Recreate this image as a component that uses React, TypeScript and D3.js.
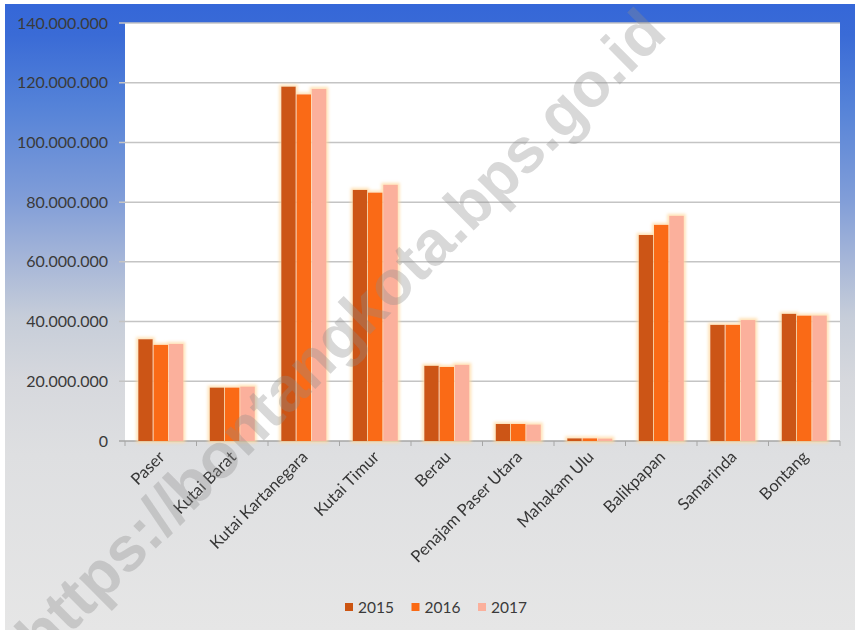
import React from "react";
import * as d3 from "d3";

const categories = [
  "Paser",
  "Kutai Barat",
  "Kutai Kartanegara",
  "Kutai Timur",
  "Berau",
  "Penajam Paser Utara",
  "Mahakam Ulu",
  "Balikpapan",
  "Samarinda",
  "Bontang",
];
const years = ["2015", "2016", "2017"];
const values2015 = [34.1e6, 17.9e6, 118.7e6, 84.1e6, 25.2e6, 5.7e6, 0.9e6, 69.0e6, 38.9e6, 42.6e6];
const values2016 = [32.2e6, 17.9e6, 116.1e6, 83.2e6, 24.8e6, 5.7e6, 0.9e6, 72.4e6, 38.9e6, 42.0e6];
const values2017 = [32.5e6, 18.2e6, 117.9e6, 85.8e6, 25.5e6, 5.5e6, 0.8e6, 75.4e6, 40.5e6, 42.0e6];
const yTicks = [0, 20e6, 40e6, 60e6, 80e6, 100e6, 120e6, 140e6];
const watermark = "https://bontangkota.bps.go.id";

const series = [values2015, values2016, values2017];
const colors = ["#cc5512", "#fa6a14", "#fbb09c"];

const W = 855;
const H = 630;
const plot = { left: 125, right: 840, top: 23, bottom: 441 };

const locale = d3.formatLocale({ decimal: ",", thousands: ".", grouping: [3], currency: ["", ""] });
const fmt = locale.format(",.0f");

export default function App() {
  const y = d3.scaleLinear().domain([0, 140e6]).range([plot.bottom, plot.top]);
  const x0 = d3
    .scaleBand<string>()
    .domain(categories)
    .range([plot.left, plot.right])
    .paddingInner(0.37)
    .paddingOuter(0.185);
  const x1 = d3.scaleBand<string>().domain(years).range([0, x0.bandwidth()]).paddingInner(0.05);
  const step = x0.step();
  const font = "Lato, 'Open Sans', sans-serif";

  return (
    <svg
      width={W}
      height={H}
      style={{ position: "absolute", left: 0, top: 0, background: "#fff" }}
      fontFamily={font}
    >
      <defs>
        <linearGradient id="bg" x1="0" y1="0" x2="0" y2="1">
          <stop offset="0" stopColor="#3567d8" />
          <stop offset="0.05" stopColor="#3a6bd6" />
          <stop offset="0.16" stopColor="#5482d8" />
          <stop offset="0.31" stopColor="#809dd8" />
          <stop offset="0.41" stopColor="#a6b6d8" />
          <stop offset="0.5" stopColor="#c6cdd9" />
          <stop offset="0.6" stopColor="#d6d8dd" />
          <stop offset="0.72" stopColor="#dedfe1" />
          <stop offset="1" stopColor="#e6e6e6" />
        </linearGradient>
        <filter id="glow" x="-30%" y="-10%" width="160%" height="120%">
          <feMorphology in="SourceAlpha" operator="dilate" radius="1.5" result="d" />
          <feGaussianBlur in="d" stdDeviation="1.5" result="b" />
          <feFlood floodColor="#ffd9a0" floodOpacity="0.75" />
          <feComposite in2="b" operator="in" result="g" />
          <feMerge>
            <feMergeNode in="g" />
            <feMergeNode in="SourceGraphic" />
          </feMerge>
        </filter>
      </defs>
      <rect x={5} y={4} width={W - 5} height={H - 4} fill="url(#bg)" />
      <rect
        x={plot.left}
        y={plot.top}
        width={plot.right - plot.left}
        height={plot.bottom - plot.top}
        fill="#ffffff"
      />
      {/* grid + y axis */}
      {yTicks.map((t) => (
        <g key={t}>
          <line
            x1={plot.left - 6}
            x2={plot.right}
            y1={y(t)}
            y2={y(t)}
            stroke={t === 0 ? "#a6a6a6" : "#c4c4c4"}
            strokeWidth={1.5}
          />
          <text
            x={108}
            y={y(t)}
            dy="0.35em"
            textAnchor="end"
            fontSize={16}
            fill="#3a3a3a"
          >
            {fmt(t)}
          </text>
        </g>
      ))}
      {/* x ticks */}
      {categories.map((c, i) => (
        <line
          key={"xt" + c}
          x1={plot.left + i * step}
          x2={plot.left + i * step}
          y1={plot.bottom}
          y2={plot.bottom + 5}
          stroke="#a6a6a6"
        />
      ))}
      <line x1={plot.right} x2={plot.right} y1={plot.bottom} y2={plot.bottom + 5} stroke="#a6a6a6" />
      {/* bars */}
      <g filter="url(#glow)">
        {categories.map((c, i) => (
          <g key={c} transform={`translate(${x0(c)},0)`}>
            {years.map((yr, j) => {
              const v = series[j][i];
              return (
                <rect
                  key={yr}
                  x={x1(yr)}
                  y={y(v)}
                  width={x1.bandwidth()}
                  height={y(0) - y(v)}
                  fill={colors[j]}
                />
              );
            })}
          </g>
        ))}
      </g>
      {/* x labels */}
      {categories.map((c) => {
        const cx = (x0(c) as number) + x0.bandwidth() / 2;
        return (
          <text
            key={"xl" + c}
            transform={`translate(${cx + 5},${plot.bottom + 17}) rotate(-45)`}
            textAnchor="end"
            fontSize={16.5}
            fill="#363636"
          >
            {c}
          </text>
        );
      })}
      {/* legend */}
      {years.map((yr, j) => {
        const lx = 345 + j * 66.5;
        return (
          <g key={"lg" + yr}>
            <rect x={lx} y={603} width={8} height={8} fill={colors[j]} />
            <text x={lx + 13} y={612.5} fontSize={15.5} fill="#3a3a3a">
              {yr}
            </text>
          </g>
        );
      })}
      {/* watermark */}
      <text
        transform="translate(340,333) rotate(-45)"
        textAnchor="middle"
        dy="0.35em"
        fontSize={63}
        fontWeight="bold"
        fontFamily="'Liberation Sans', Arial, sans-serif"
        fill="#8c8c8c"
        fillOpacity={0.34}
      >
        {watermark}
      </text>
    </svg>
  );
}
